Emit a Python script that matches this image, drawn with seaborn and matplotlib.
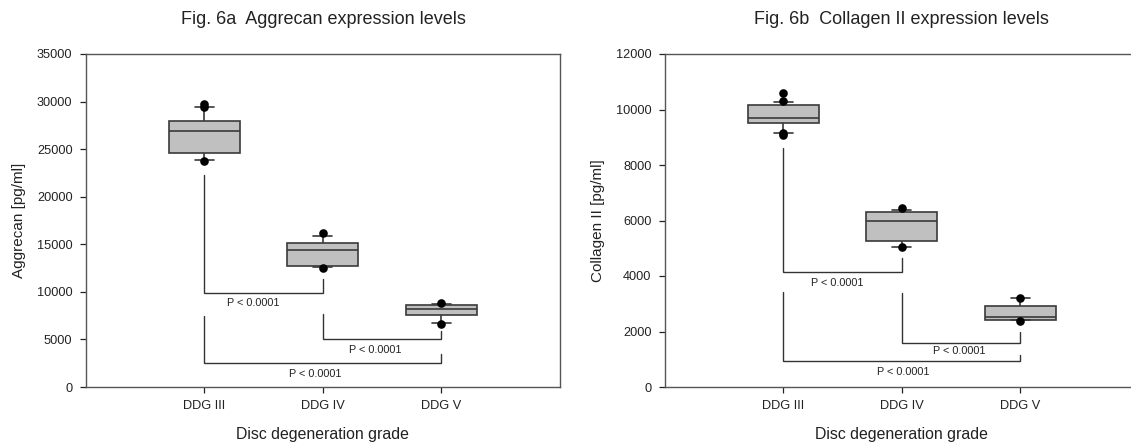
import numpy as np
import pandas as pd
import matplotlib
matplotlib.use("Agg")
import matplotlib.pyplot as plt
import seaborn as sns

# ---------------- data ----------------
grades = ["DDG III", "DDG IV", "DDG V"]

agg_whislo = [23870, 12610, 6690]
agg_q1 = [24570, 12710, 7550]
agg_median = [26890, 14430, 8210]
agg_q3 = [28010, 15160, 8650]
agg_whishi = [29400, 15910, 8700]
agg_out_grade = ["DDG III", "DDG III", "DDG III", "DDG IV", "DDG IV", "DDG V", "DDG V"]
agg_out_value = [29700, 29450, 23800, 16230, 12540, 8850, 6660]

col_whislo = [9170, 5055, 2431]
col_q1 = [9530, 5272, 2431]
col_median = [9700, 5970, 2528]
col_q3 = [10155, 6307, 2925]
col_whishi = [10260, 6379, 3190]
col_out_grade = ["DDG III", "DDG III", "DDG III", "DDG III", "DDG IV", "DDG IV", "DDG V", "DDG V"]
col_out_value = [10580, 10290, 9160, 9070, 6460, 5060, 3214, 2395]

agg_ticks = [0, 5000, 10000, 15000, 20000, 25000, 30000, 35000]
col_ticks = [0, 2000, 4000, 6000, 8000, 10000, 12000]

# significance brackets: (left cat, right cat, left top, bar level, right top)
agg_brackets = [(0, 1, 22290, 9830, 11340), (1, 2, 7720, 5020, 5860), (0, 2, 7510, 2530, 3510)]
agg_label_x = [0.41, 1.44, 0.94]
agg_label_y = [8780, 3930, 1400]
col_brackets = [(0, 1, 8630, 4128, 4634), (1, 2, 3370, 1589, 1974), (0, 2, 3406, 927, 1143)]
col_label_x = [0.46, 1.49, 1.015]
col_label_y = [3731, 1300, 542]
p_text = "P < 0.0001"

titles = ["Fig. 6a  Aggrecan expression levels", "Fig. 6b  Collagen II expression levels"]
ylabels = ["Aggrecan [pg/ml]", "Collagen II [pg/ml]"]
xlabel = "Disc degeneration grade"

# ---------------- style ----------------
sns.set_style("ticks")
plt.rcParams["font.family"] = ["Liberation Sans", "DejaVu Sans"]

W, H = 1131, 443
fig = plt.figure(figsize=(W / 100, H / 100), dpi=100)

axL = fig.add_axes([85.7 / W, (H - 387) / H, 474 / W, 333 / H])
axR = fig.add_axes([664.6 / W, (H - 387) / H, 474 / W, 333 / H])

edge = "#3a3a3a"


def box_frame(whislo, q1, med, q3, whishi):
    rows = []
    for g, a, b, c, d, e in zip(grades, whislo, q1, med, q3, whishi):
        for v in (a, b, b, c, d, d, e):
            rows.append({"grade": g, "value": v})
    return pd.DataFrame(rows)


def panel(ax, stats, og, ov, ticks, brackets, lx, ly, ylabel):
    df = box_frame(*stats)
    sns.boxplot(data=df, x="grade", y="value", order=grades, ax=ax,
                whis=(0, 100), showfliers=False, width=0.6,
                color="#c0c0c0", saturation=1, linecolor=edge, linewidth=1.2,
                capwidths=0.16)
    out = pd.DataFrame({"grade": og, "value": ov})
    sns.stripplot(data=out, x="grade", y="value", order=grades, ax=ax,
                  jitter=False, color="black", size=6.2, zorder=4)
    for (a, b, yl, ym, yr), tx, ty in zip(brackets, lx, ly):
        ax.plot([a, a, b, b], [yl, ym, ym, yr], color="#333333", lw=1.0,
                solid_joinstyle="miter", zorder=2)
        ax.text(tx, ty, p_text, ha="center", va="center", fontsize=7.8, color="#222222")
    ax.set_xlim(-1.0, 3.0)
    ax.set_ylim(ticks[0], ticks[-1])
    ax.set_yticks(ticks)
    ax.set_yticklabels([str(t) for t in ticks])
    ax.set_ylabel(ylabel, fontsize=11, color="#222222", labelpad=8)
    ax.set_xlabel(xlabel, fontsize=11.4, color="#222222", labelpad=11)
    ax.tick_params(axis="both", labelsize=9.2, colors="#222222", length=4.5,
                   width=0.9, direction="out")
    ax.tick_params(axis="y", pad=5)
    ax.tick_params(axis="x", pad=5)
    for s in ax.spines.values():
        s.set_visible(True)
        s.set_color("#555555")
        s.set_linewidth(1.0)


panel(axL, (agg_whislo, agg_q1, agg_median, agg_q3, agg_whishi),
      agg_out_grade, agg_out_value, agg_ticks, agg_brackets,
      agg_label_x, agg_label_y, ylabels[0])
panel(axR, (col_whislo, col_q1, col_median, col_q3, col_whishi),
      col_out_grade, col_out_value, col_ticks, col_brackets,
      col_label_x, col_label_y, ylabels[1])

fig.text(323 / W, 1 - 20 / H, titles[0], ha="center", va="center", fontsize=13, color="#222222")
fig.text(901 / W, 1 - 20 / H, titles[1], ha="center", va="center", fontsize=13, color="#222222")

fig.savefig("out.png", dpi=100, facecolor="white")
